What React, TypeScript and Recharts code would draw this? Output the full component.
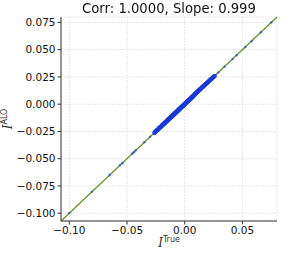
import React from 'react';
import { ScatterChart, Scatter, XAxis, YAxis, CartesianGrid, ReferenceLine } from 'recharts';

const trueValues = [-0.1000, -0.0805, -0.0650, -0.0560, -0.0540, -0.0455, -0.0440, -0.0425, -0.0350, -0.0300,
  -0.0262, -0.0255, -0.0248, -0.0240, -0.0233, -0.0225, -0.0218, -0.0212, -0.0205,
  -0.0199, -0.0193, -0.0187, -0.0181, -0.0175, -0.0170, -0.0164, -0.0158, -0.0153, -0.0147,
  -0.0142, -0.0136, -0.0131, -0.0126, -0.0120, -0.0115, -0.0110, -0.0105, -0.0100, -0.0095,
  -0.0090, -0.0085, -0.0080, -0.0075, -0.0070, -0.0065, -0.0060, -0.0055, -0.0050, -0.0045,
  -0.0040, -0.0035, -0.0030, -0.0025, -0.0020, -0.0015, -0.0010, -0.0005, 0.0000, 0.0005,
  0.0010, 0.0015, 0.0020, 0.0025, 0.0030, 0.0035, 0.0040, 0.0045, 0.0050, 0.0055,
  0.0060, 0.0065, 0.0070, 0.0075, 0.0080, 0.0086, 0.0092, 0.0098, 0.0104, 0.0110,
  0.0116, 0.0122, 0.0128, 0.0134, 0.0140, 0.0147, 0.0154, 0.0161, 0.0168, 0.0175,
  0.0183, 0.0191, 0.0199, 0.0207, 0.0215, 0.0224, 0.0233, 0.0242, 0.0251, 0.0260,
  0.0290, 0.0345, 0.0415, 0.0450, 0.0525, 0.0580, 0.0660, 0.0750];
const aloValues = [-0.0999, -0.0804, -0.0651, -0.0559, -0.0541, -0.0454, -0.0441, -0.0424, -0.0350, -0.0299,
  -0.0264, -0.0252, -0.0251, -0.0237, -0.0236, -0.0222, -0.0221, -0.0209, -0.0208,
  -0.0196, -0.0196, -0.0184, -0.0184, -0.0172, -0.0173, -0.0161, -0.0161, -0.0150, -0.0150,
  -0.0139, -0.0139, -0.0128, -0.0129, -0.0117, -0.0118, -0.0107, -0.0108, -0.0097, -0.0098,
  -0.0087, -0.0088, -0.0077, -0.0078, -0.0067, -0.0068, -0.0057, -0.0058, -0.0047, -0.0048,
  -0.0037, -0.0038, -0.0027, -0.0028, -0.0017, -0.0018, -0.0007, -0.0008, 0.0003, 0.0002,
  0.0013, 0.0012, 0.0023, 0.0022, 0.0033, 0.0032, 0.0043, 0.0042, 0.0053, 0.0052,
  0.0063, 0.0062, 0.0073, 0.0072, 0.0083, 0.0089, 0.0095, 0.0101, 0.0107, 0.0113,
  0.0119, 0.0125, 0.0131, 0.0137, 0.0143, 0.0150, 0.0157, 0.0163, 0.0170, 0.0177,
  0.0185, 0.0193, 0.0200, 0.0208, 0.0216, 0.0225, 0.0233, 0.0242, 0.0251, 0.0259,
  0.0290, 0.0344, 0.0414, 0.0449, 0.0524, 0.0579, 0.0659, 0.0749];

const xTicks = [-0.1, -0.05, 0, 0.05];
const yTicks = [-0.1, -0.075, -0.05, -0.025, 0, 0.025, 0.05, 0.075];
const domainMin = -0.1072;
const domainMax = 0.0800;
const title = 'Corr: 1.0000, Slope: 0.999';

const points = trueValues.map((x, i) => ({ x, y: aloValues[i] }));

const fmt = (d: number) => (v: number) => {
  const s = Math.abs(v).toFixed(d);
  return v < -1e-9 ? '\u2212' + s : s;
};

const font = 'DejaVu Sans, sans-serif';

const Dot = (p: any) => {
  const dense = Math.abs(p.payload.x) < 0.0275;
  return <circle cx={p.cx} cy={p.cy} r={dense ? 2.3 : 1.3} fill="#1a3ad2" fillOpacity={dense ? 0.9 : 0.6} />;
};

export default function App() {
  return (
    <div style={{ position: 'fixed', left: 0, top: 0, width: 299, height: 254, background: '#fff' }}>
      <ScatterChart width={299} height={254} margin={{ top: 17, right: 22, bottom: 0, left: 0 }}>
        <CartesianGrid stroke="#e6e6e6" strokeDasharray="2 1" />
        <XAxis type="number" dataKey="x" domain={[domainMin, domainMax]} ticks={xTicks}
          allowDataOverflow tickFormatter={fmt(2)} height={33}
          stroke="#333" tickLine={{ stroke: '#333' }} tickSize={3.5}
          tick={{ fill: '#111', fontSize: 10.5, fontFamily: font }} />
        <YAxis type="number" dataKey="y" domain={[domainMin, domainMax]} ticks={yTicks}
          allowDataOverflow tickFormatter={fmt(3)} width={61}
          stroke="#333" tickLine={{ stroke: '#333' }} tickSize={3.5}
          tick={{ fill: '#111', fontSize: 10.5, fontFamily: font }} />
        <XAxis xAxisId="top" orientation="top" type="number" domain={[domainMin, domainMax]}
          allowDataOverflow tick={false} tickLine={false} height={0} stroke="#333" />
        <YAxis yAxisId="right" orientation="right" type="number" domain={[domainMin, domainMax]}
          allowDataOverflow tick={false} tickLine={false} width={0} stroke="#333" />
        <ReferenceLine segment={[{ x: domainMin, y: domainMin }, { x: domainMax, y: domainMax }]}
          stroke="#5c9a3a" strokeWidth={1.3} />
        <Scatter data={points} fill="#1a3ad2" isAnimationActive={false} shape={Dot} />
        <ReferenceLine segment={[{ x: domainMin, y: domainMin }, { x: domainMax, y: domainMax }]}
          stroke="#b36a2a" strokeWidth={1} strokeDasharray="2 3" strokeOpacity={0.75} />
        <text x={169} y={247} textAnchor="middle" fontFamily={font} fill="#333">
          <tspan fontSize={12} fontStyle="italic" fontFamily="DejaVu Serif, serif">I</tspan>
          <tspan fontSize={8} dy={-5}>True</tspan>
        </text>
        <text transform="translate(12,119) rotate(-90)" textAnchor="middle" fontFamily={font} fill="#333">
          <tspan fontSize={12} fontStyle="italic" fontFamily="DejaVu Serif, serif">I</tspan>
          <tspan fontSize={8} dy={-5}>ALO</tspan>
        </text>
      </ScatterChart>
      <div style={{ position: 'absolute', left: 0, top: 0, width: 338, textAlign: 'center', fontFamily: font,
        fontSize: 13.2, lineHeight: '17px', color: '#111', whiteSpace: 'nowrap' }}>{title}</div>
    </div>
  );
}
